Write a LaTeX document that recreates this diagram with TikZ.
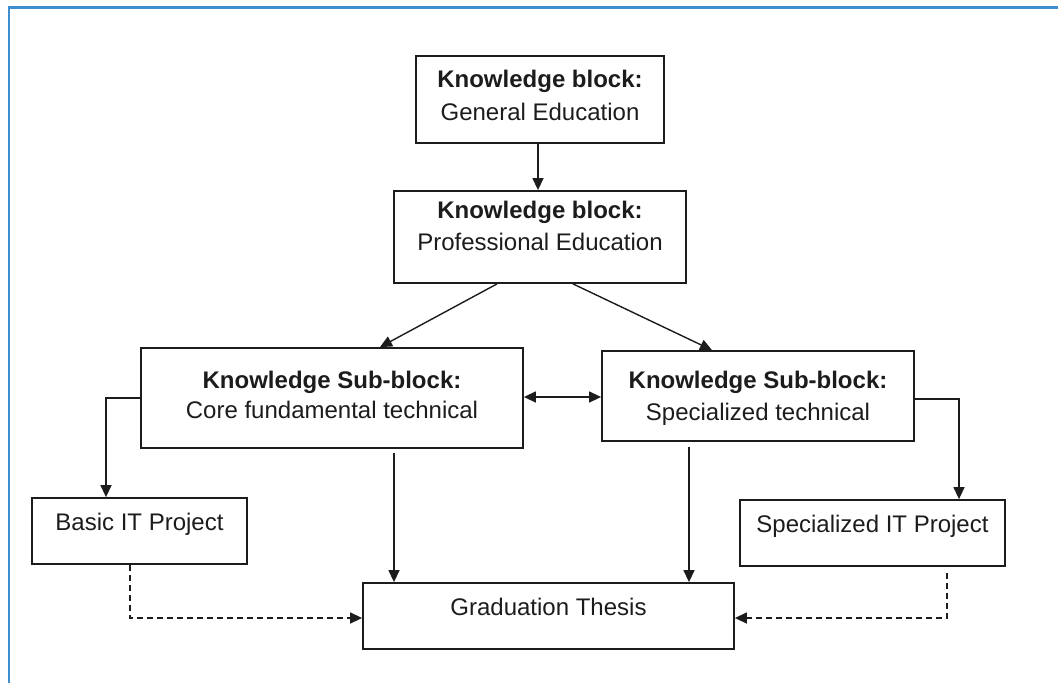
\documentclass[tikz,border=0pt]{standalone}
\usepackage{fontspec}
\setmainfont{Liberation Sans}
\usetikzlibrary{arrows.meta,calc}
\definecolor{frameblue}{RGB}{62,142,208}
\definecolor{ink}{RGB}{28,28,28}
\begin{document}
\begin{tikzpicture}[x=1pt,y=-1pt,
  box/.style={draw=ink, line width=1.8pt, rectangle, inner sep=0pt},
  lbl/.style={anchor=base, inner sep=0pt, text=ink, font=\fontsize{24}{29}\selectfont},
  hdr/.style={anchor=base, inner sep=0pt, text=ink, font=\fontsize{24}{29}\selectfont\bfseries},
  link/.style={draw=ink, line width=1.4pt, -{Triangle[length=12pt,width=11pt]}},
  both/.style={draw=ink, line width=1.4pt, {Triangle[length=12pt,width=11pt]}-{Triangle[length=12pt,width=11pt]}},
  dlink/.style={draw=ink, line width=1.4pt, dash pattern=on 6pt off 4pt, -{Triangle[length=12pt,width=11pt]}},
]
\useasboundingbox (0,0) rectangle (1058,683);
% page frame
\draw[frameblue, line width=2.2pt] (9,683) -- (9,7.5) -- (1058,7.5);

% boxes
\node[box, minimum width=248pt, minimum height=87pt] (b1) at (540,99.5) {};
\node[box, minimum width=292pt, minimum height=92pt] (b2) at (540,237) {};
\node[box, minimum width=382pt, minimum height=100pt] (b3) at (332,398) {};
\node[box, minimum width=312pt, minimum height=90pt] (b4) at (758,396) {};
\node[box, minimum width=215pt, minimum height=66pt] (b5) at (139.5,531) {};
\node[box, minimum width=265pt, minimum height=66pt] (b6) at (872.5,533) {};
\node[box, minimum width=371pt, minimum height=66pt] (b7) at (548.5,616) {};

% texts
\node[hdr] (t1a) at (540,87) {Knowledge block:};
\node[lbl] (t1b) at (540,120) {General Education};
\node[hdr] (t2a) at (540,218) {Knowledge block:};
\node[lbl] (t2b) at (540,250) {Professional Education};
\node[hdr] (t3a) at (332,388) {Knowledge Sub-block:};
\node[lbl] (t3b) at (332,418) {Core fundamental technical};
\node[hdr] (t4a) at (758,388) {Knowledge Sub-block:};
\node[lbl] (t4b) at (758,420) {Specialized technical};
\node[lbl] (t5) at (139.5,530) {Basic IT Project};
\node[lbl] (t6) at (872.5,532) {Specialized IT Project};
\node[lbl] (t7) at (548.5,615) {Graduation Thesis};

% connectors
\draw[link] ([xshift=-2pt]b1.south) -- ([xshift=-2pt]b2.north);
\draw[link] ([xshift=-43pt]b2.south) -- ([xshift=48pt]b3.north);
\draw[link] ([xshift=33pt]b2.south) -- ([xshift=-46pt]b4.north);
\draw[both] ([yshift=1pt]b3.east) -- ([yshift=1pt]b3.east -| b4.west);
\draw[link] (b3.west) -| ([xshift=-33.5pt]b5.north);
\draw[link] ([yshift=-3pt]b4.east) -| ([xshift=86.5pt]b6.north);
\draw[link] ([xshift=62pt,yshift=-4pt]b3.south) -- ([xshift=62pt]b3.south |- b7.north);
\draw[link] ([xshift=-69pt,yshift=-5pt]b4.south) -- ([xshift=-69pt]b4.south |- b7.north);
\draw[dlink] ([xshift=-9.5pt]b5.south) |- ([yshift=-2pt]b7.west);
\draw[dlink] ([xshift=74.5pt,yshift=-6pt]b6.south) |- ([yshift=-2pt]b7.east);
\end{tikzpicture}
\end{document}
